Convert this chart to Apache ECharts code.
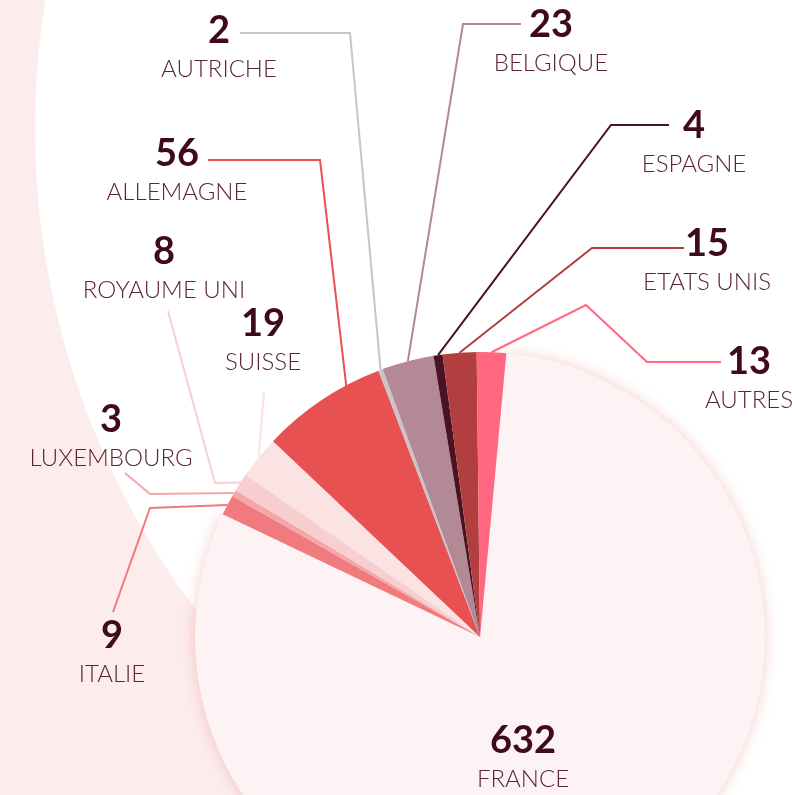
<!DOCTYPE html>
<html>
<head>
<meta charset="utf-8">
<script src="https://cdn.jsdelivr.net/npm/echarts@6/dist/echarts.min.js"></script>
<style>
  html, body { margin: 0; padding: 0; }
  #chart { width: 792px; height: 795px; }
</style>
</head>
<body>
<div id="chart"></div>
<script>
// pays et valeurs
const countries = ['FRANCE', 'ITALIE', 'LUXEMBOURG', 'ROYAUME UNI', 'SUISSE', 'ALLEMAGNE',
  'AUTRICHE', 'BELGIQUE', 'ESPAGNE', 'ETATS UNIS', 'AUTRES'];
const values = [632, 9, 3, 8, 19, 56, 2, 23, 4, 15, 13];
const colors = ['#fdf3f4', '#f07b7f', '#f4a6a9', '#f8cfd0', '#fbe2e3', '#e85152',
  '#cdc2c6', '#b38996', '#4a1222', '#b13f3f', '#ff6880'];

// position des étiquettes (centre x, haut du bloc) et coudes des lignes
const labelPos = [
  [523, 721], [112, 616], [111, 400], [164, 232], [263, 304], [177, 134],
  [219, 11], [551, 5], [694, 106], [707, 224], [749, 342]
];
const lineBends = [
  null,
  [[150, 508], [113, 612]],
  [[150, 494], [125, 473]],
  [[215, 483], [168, 311]],
  [[264, 392]],
  [[320, 160], [208, 160]],
  [[350, 33], [240, 33]],
  [[463, 24], [521, 24]],
  [[611, 125], [669, 125]],
  [[592, 248], [684, 248]],
  [[586, 305], [647, 362], [721, 362]]
];

const center = [480, 637];

const chart = echarts.init(document.getElementById('chart'));

const data = countries.map((name, i) => ({
  name: name,
  value: values[i],
  itemStyle: i === 0
    ? { color: colors[i], shadowBlur: 14, shadowColor: 'rgba(240, 140, 140, 0.45)' }
    : { color: colors[i] },
  labelLine: { show: i !== 0, lineStyle: { color: colors[i] } }
}));

chart.setOption({
  backgroundColor: '#fcecec',
  graphic: [{
    type: 'circle',
    silent: true,
    z: 0,
    shape: { cx: 834, cy: 129, r: 799 },
    style: { fill: '#ffffff' }
  }],
  series: [{
    type: 'pie',
    z: 5,
    center: center,
    radius: 285,
    startAngle: 84.7,
    clockwise: true,
    animation: false,
    avoidLabelOverlap: false,
    data: data,
    label: {
      show: true,
      position: 'outside',
      overflow: 'none',
      formatter: '{v|{c}}\n{n|{b}}',
      rich: {
        v: { fontFamily: 'Lato', fontWeight: 'bold', fontSize: 38, lineHeight: 40, color: '#3f0b1b', align: 'center' },
        n: { fontFamily: 'Lato', fontWeight: 300, fontSize: 24, lineHeight: 37, color: '#5b2433', align: 'center' }
      }
    },
    labelLine: { show: true, lineStyle: { width: 2 } },
    labelLayout: function (params) {
      const i = params.dataIndex;
      const out = { x: labelPos[i][0], y: labelPos[i][1], align: 'center', verticalAlign: 'top' };
      if (lineBends[i] && params.labelLinePoints) {
        let p0 = params.labelLinePoints[0];
        if (i === 5) {
          // ligne Allemagne : part de l'intérieur de la part
          p0 = [center[0] + (p0[0] - center[0]) * 0.8, center[1] + (p0[1] - center[1]) * 0.8];
        }
        out.labelLinePoints = [p0].concat(lineBends[i]);
      }
      return out;
    }
  }]
});
</script>
</body>
</html>
